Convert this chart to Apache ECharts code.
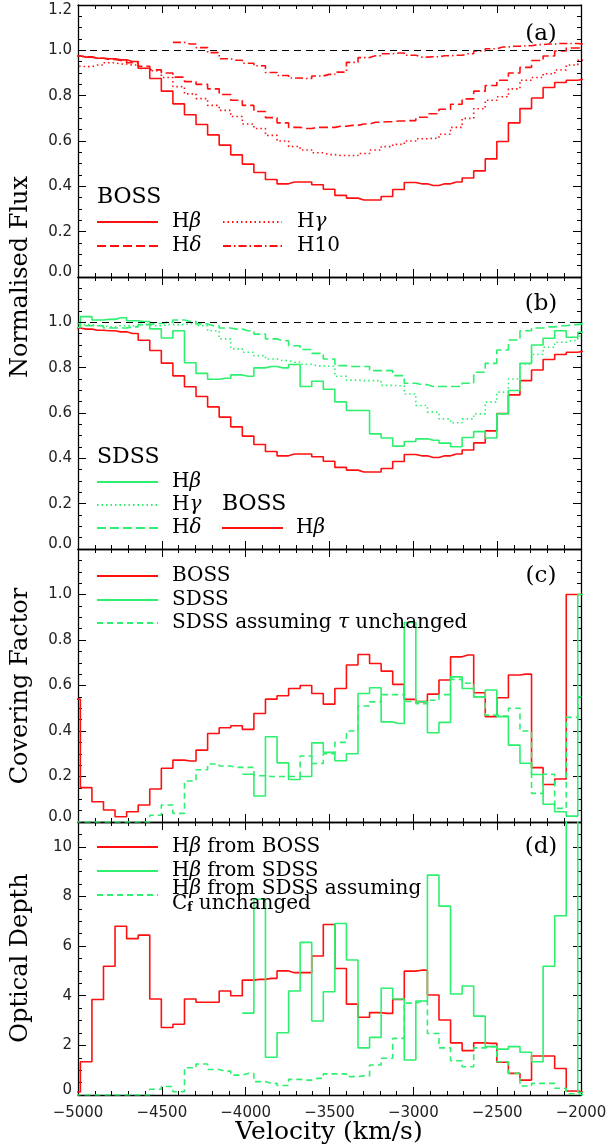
<!DOCTYPE html>
<html><head><meta charset="utf-8">
<script src="https://cdn.jsdelivr.net/npm/echarts/dist/echarts.min.js"></script>
<style>html,body{margin:0;padding:0;background:#fff}#c{width:609px;height:1148px}</style>
</head><body><div id="c"></div><script>
// bin centres (km/s), 69 km/s pixels
const VEL = [-5020.5,-4951.5,-4882.5,-4813.5,-4744.5,-4675.5,-4606.5,-4537.5,-4468.5,-4399.5,-4330.5,-4261.5,-4192.5,-4123.5,-4054.5,-3985.5,-3916.5,-3847.5,-3778.5,-3709.5,-3640.5,-3571.5,-3502.5,-3433.5,-3364.5,-3295.5,-3226.5,-3157.5,-3088.5,-3019.5,-2950.5,-2881.5,-2812.5,-2743.5,-2674.5,-2605.5,-2536.5,-2467.5,-2398.5,-2329.5,-2260.5,-2191.5,-2122.5,-2053.5,-1984.5];
const N = null;
// (a)/(b) normalised flux
const BOSS_HB = [0.975,0.97,0.965,0.963,0.958,0.951,0.921, 0.876,0.82,0.764,0.716,0.673,0.627,0.582,0.539,0.498,0.461, 0.43,0.411,0.419,0.419,0.407,0.387,0.36,0.348,0.34,0.34, 0.355,0.386,0.417,0.411,0.404,0.411,0.419,0.437,0.468,0.521, 0.598,0.68,0.743,0.79,0.836,0.858,0.868,0.873];
const BOSS_HD = [0.975,0.972,0.965,0.96,0.955,0.945,0.93, 0.914,0.9,0.882,0.862,0.85,0.83,0.805,0.78,0.757,0.73, 0.703,0.68,0.66,0.655,0.66,0.66,0.665,0.669,0.675,0.683, 0.685,0.688,0.69,0.705,0.72,0.74,0.762,0.786,0.82,0.845, 0.868,0.9,0.925,0.955,0.975,0.997,1.01,1.01];
const BOSS_HG = [0.93,0.928,0.935,0.945,0.94,0.935,0.92, 0.91,0.88,0.84,0.808,0.787,0.757,0.735,0.708,0.675,0.655, 0.625,0.6,0.576,0.56,0.548,0.54,0.536,0.536,0.545,0.56, 0.575,0.585,0.6,0.61,0.612,0.63,0.66,0.7,0.742,0.78, 0.795,0.83,0.868,0.88,0.897,0.913,0.935,0.956];
const BOSS_H10 = [N,N,N,N,N,N,N,N,N, 1.035,1.028,1.012,0.99,0.963,0.956,0.943,0.932, 0.902,0.889,0.878,0.876,0.887,0.894,0.904,0.947,0.968,0.976, 0.985,0.988,0.978,0.97,0.972,0.976,0.978,0.985,0.997,1.007, 1.015,1.018,1.02,1.025,1.028,1.03,1.03,1.028];
const SDSS_HB = [0.978,1.025,1.01,1.013,1.02,1.007,1.004, 0.971,0.931,0.963,0.822,0.775,0.749,0.753,0.768,0.762,0.799, 0.805,0.799,0.814,0.717,0.74,0.705,0.649,0.611,0.611,0.508, 0.49,0.454,0.474,0.486,0.48,0.467,0.451,0.492,0.518,0.49, 0.596,0.699,0.819,0.9,0.93,0.963,0.934,0.956];
const SDSS_HG = [0.99,0.99,0.985,0.98,0.985,0.985,0.99, 0.985,0.99,0.99,0.995,0.985,0.963,0.927,0.883,0.868,0.853, 0.838,0.831,0.824,0.815,0.808,0.806,0.762,0.745,0.743,0.743, 0.722,0.72,0.684,0.633,0.604,0.574,0.557,0.574,0.596,0.648, 0.692,0.75,0.816,0.858,0.89,0.912,0.92,0.94];
const SDSS_HD = [0.995,0.985,0.985,0.975,0.975,0.98,0.99, 0.995,1.0,1.01,1.004,0.993,0.985,0.975,0.97,0.963,0.948, 0.927,0.919,0.897,0.88,0.863,0.838,0.809,0.805,0.805,0.787, 0.787,0.765,0.731,0.725,0.717,0.717,0.717,0.731,0.78,0.819, 0.878,0.922,0.963,0.975,0.98,0.985,0.99,0.995];
// (c) covering factor
const BOSS_CF = [0.54,0.151,0.089,0.053,0.023,0.045,0.075, 0.145,0.236,0.272,0.268,0.316,0.389,0.414,0.423,0.407,0.477, 0.54,0.555,0.587,0.6,0.565,0.518,0.587,0.69,0.736,0.697, 0.663,0.605,0.539,0.529,0.562,0.624,0.726,0.734,0.568,0.463, 0.546,0.646,0.65,0.239,0.165,0.189,1.0,1.0];
const SDSS_CF = [N,N,N,N,N,N,N,N,N,N,N,N,N,N,N, 0.21,0.114, 0.375,0.26,0.187,0.2,0.348,0.306,0.269,0.3,0.565,0.59, 0.44,0.433,0.877,0.529,0.392,0.438,0.638,0.587,0.55,0.58, 0.463,0.338,0.258,0.209,0.078,0.045,0.026,1.0];
const SDSS_CF_TAU = [0,0,0,0,0,0,0, 0.03,0.075,0.038,0.18,0.23,0.255,0.246,0.24,0.24,0.203, 0.2,0.2,0.2,0.29,0.257,0.3,0.35,0.4,0.51,0.528, 0.56,0.56,0.53,0.52,0.535,0.56,0.627,0.61,0.55,0.47, 0.466,0.5,0.4,0.126,0.21,0.06,0.46,0.55];
// (d) optical depth
const BOSS_TAU = [0.12,1.34,3.85,5.19,6.8,6.3,6.44, 3.87,2.72,2.85,3.87,3.74,3.74,4.19,4.0,4.63,4.66, 4.7,5.0,4.93,4.93,5.6,6.87,5.1,3.66,3.13,3.32, 3.29,3.85,4.99,5.03,4.03,3.02,2.1,1.79,2.1,2.08, 1.32,0.87,0.6,1.57,1.57,1.07,0.16,0.13];
const SDSS_TAU = [N,N,N,N,N,N,N,N,N,N,N,N,N,N,N, 3.3,7.89, 1.52,2.51,4.19,6.15,2.98,4.16,6.91,5.44,1.9,2.32, 4.3,3.87,1.41,3.79,8.86,7.61,4.07,4.39,3.18,1.95, 1.85,1.95,1.72,1.34,5.19,7.22,13,0.1];
const SDSS_TAU_CF = [0,0,0,0,0,0,0, 0.23,0.34,0.13,1.1,1.25,1.03,0.96,0.8,0.87,0.54, 0.47,0.38,0.63,0.6,0.67,0.85,0.85,0.74,0.77,1.21, 1.48,2.28,3.7,3.78,2.48,1.9,1.38,1.14,1.9,1.95, 1.34,0.87,0.36,0.47,0.47,0.27,0.05,0];

const X_MIN = -5000, X_MAX = -2000, X_STEP = 500;
const Y_RANGES = [[0,1.2,0.2],[0,1.2,0.2],[0,1.2,0.2],[0,11,2]];
const PANEL_LABELS = ['(a)','(b)','(c)','(d)'];

const RED = '#ff1010', GREEN = '#2df06e';
const GRIDS = [{top:5,height:272},{top:277,height:272},{top:549,height:273},{top:822,height:273}];
const SERIF = '"DejaVu Serif", "Liberation Serif", serif';
const SANS = '"DejaVu Sans", sans-serif';

function mk(arr){ return VEL.map((v,i)=>[v, arr[i]]); }

const grid = GRIDS.map(g=>({left:78, right:28, top:g.top, height:g.height, containLabel:false, outerBoundsMode:'none'}));

const LBL_RICH = {
  m:{fontFamily:SANS, fontSize:15, color:'#222'},
  lo:{fontFamily:SANS, fontSize:15, color:'#222', padding:[0,0,10,0]},
  hi:{fontFamily:SANS, fontSize:15, color:'#222', padding:[10,0,0,0]}
};

const xAxis = [], yAxis = [];
GRIDS.forEach((g,gi)=>{
  ['bottom','top'].forEach(pos=>{
    xAxis.push({type:'value', gridIndex:gi, position:pos, min:X_MIN, max:X_MAX, interval:X_STEP,
      axisLine:{show:true, onZero:false, lineStyle:{color:'#000', width:1.3}},
      axisTick:{show:true, inside:true, length:8, lineStyle:{color:'#000', width:1}},
      minorTick:{show:true, splitNumber:5, length:4, lineStyle:{color:'#000', width:1}},
      splitLine:{show:false}, minorSplitLine:{show:false},
      axisLabel:{show: gi===3 && pos==='bottom', margin:11, fontFamily:SANS, fontSize:15, color:'#222',
        formatter: v => (v<0?'\u2212':'') + Math.abs(v)}
    });
  });
  const r = Y_RANGES[gi];
  ['left','right'].forEach(pos=>{
    yAxis.push({type:'value', gridIndex:gi, position:pos, min:r[0], max:r[1], interval:r[2],
      axisLine:{show:true, onZero:false, lineStyle:{color:'#000', width:1.3}},
      axisTick:{show:true, inside:true, length:8, lineStyle:{color:'#000', width:1}},
      minorTick:{show:true, splitNumber:4, length:4, lineStyle:{color:'#000', width:1}},
      splitLine:{show:false}, minorSplitLine:{show:false},
      axisLabel:{show: pos==='left', margin:6, rich:LBL_RICH,
        formatter: v => {
          let t;
          if (gi===3) { if (Math.abs(v-11)<1e-6) return ''; t = String(Math.round(v)); }
          else { if (gi>0 && v>1.1) return ''; t = v.toFixed(1); }
          if (Math.abs(v)<1e-9) return '{lo|'+t+'}';
          if (gi===0 && v>1.1) return '{hi|'+t+'}';
          return '{m|'+t+'}';
        }}
    });
  });
});

function S(gi, arr, color, dash, width, extra){
  return Object.assign({type:'line', xAxisIndex:2*gi, yAxisIndex:2*gi, data:mk(arr), step:'middle',
    symbol:'none', showSymbol:false, clip:true, silent:true, animation:false,
    lineStyle:{color:color, width:width||1.6, type:dash||'solid'}}, extra||{});
}
const ONE_LINE = {markLine:{silent:true, symbol:'none', animation:false, label:{show:false},
  lineStyle:{color:'#000', type:[7,5], width:1}, data:[{yAxis:1}]}};

const DASH_LONG=[9,4], DOT=[1.5,3], DASHDOT=[8,3,1.5,3], DASH_SHORT=[6,4];

const series = [
  S(0, BOSS_HB, RED, 'solid', 1.6, ONE_LINE),
  S(0, BOSS_HD, RED, DASH_LONG),
  S(0, BOSS_HG, RED, DOT),
  S(0, BOSS_H10, RED, DASHDOT),
  S(1, BOSS_HB, RED, 'solid', 1.6, ONE_LINE),
  S(1, SDSS_HG, GREEN, DOT),
  S(1, SDSS_HD, GREEN, DASH_LONG),
  S(1, SDSS_HB, GREEN, 'solid'),
  S(2, BOSS_CF, RED, 'solid'),
  S(2, SDSS_CF_TAU, GREEN, DASH_SHORT),
  S(2, SDSS_CF, GREEN, 'solid'),
  S(3, BOSS_TAU, RED, 'solid'),
  S(3, SDSS_TAU_CF, GREEN, DASH_SHORT),
  S(3, SDSS_TAU, GREEN, 'solid')
];

const RICH = {
  n:{fontFamily:SERIF, fontSize:20, color:'#000'},
  h:{fontFamily:SERIF, fontSize:22, color:'#000'},
  g:{fontFamily:SERIF, fontSize:20, fontStyle:'italic', color:'#000'},
  s:{fontFamily:SERIF, fontSize:12, fontWeight:'bold', color:'#000', verticalAlign:'bottom'}
};
function gl(x1,x2,y,color,dash){ return {type:'line', silent:true, z:100, shape:{x1:x1,y1:y,x2:x2,y2:y},
  style:{stroke:color, lineWidth:2.2, lineDash:dash||null}}; }
function gt(x,y,text,opts){ opts=opts||{}; return {type:'text', silent:true, z:100, x:x, y:y, rotation:opts.rot||0,
  style:{text:text, rich:RICH, fill:'#000', font:(opts.size||20)+'px '+SERIF,
    textAlign:opts.align||'left', align:opts.align||'left', textVerticalAlign:'middle', verticalAlign:'middle'}}; }

const graphic = [
  // y titles
  gt(21, 277, 'Normalised Flux', {size:24, align:'center', rot:Math.PI/2}),
  gt(21, 686, 'Covering Factor', {size:24, align:'center', rot:Math.PI/2}),
  gt(21, 958, 'Optical Depth', {size:24, align:'center', rot:Math.PI/2}),
  gt(329, 1132, 'Velocity (km/s)', {size:25, align:'center'}),
  // panel labels
  gt(541, 34, PANEL_LABELS[0], {size:23, align:'center'}),
  gt(541, 304, PANEL_LABELS[1], {size:23, align:'center'}),
  gt(541, 576, PANEL_LABELS[2], {size:23, align:'center'}),
  gt(541, 847, PANEL_LABELS[3], {size:23, align:'center'}),
  // legend (a)
  gt(97, 197, '{h|BOSS}'),
  gl(97,158,222,RED), gt(172,222,'{n|H}{g|β}'),
  gl(223,282,222,RED,DOT), gt(297,222,'{n|H}{g|γ}'),
  gl(97,158,246,RED,DASH_LONG), gt(172,246,'{n|H}{g|δ}'),
  gl(223,282,246,RED,DASHDOT), gt(297,246,'{n|H10}'),
  // legend (b)
  gt(97, 457, '{h|SDSS}'),
  gl(97,158,482,GREEN), gt(172,482,'{n|H}{g|β}'),
  gl(97,158,505,GREEN,DOT), gt(172,505,'{n|H}{g|γ}'),
  gl(97,158,528,GREEN,DASH_LONG), gt(172,528,'{n|H}{g|δ}'),
  gt(222, 504, '{h|BOSS}'),
  gl(222,283,528,RED), gt(296,528,'{n|H}{g|β}'),
  // legend (c)
  gl(97,158,576,RED), gt(172,576,'{n|BOSS}'),
  gl(97,158,600,GREEN), gt(172,600,'{n|SDSS}'),
  gl(97,158,623,GREEN,DASH_SHORT), gt(172,623,'{n|SDSS assuming }{g|τ}{n| unchanged}'),
  // legend (d)
  gl(97,158,847,RED), gt(172,847,'{n|H}{g|β}{n| from BOSS}'),
  gl(97,158,871,GREEN), gt(172,871,'{n|H}{g|β}{n| from SDSS}'),
  gl(97,158,895,GREEN,DASH_SHORT), gt(172,889,'{n|H}{g|β}{n| from SDSS assuming}'),
  gt(172,904,'{n|C}{s|f}{n| unchanged}')
];

const chart = echarts.init(document.getElementById('c'), null, {renderer:'canvas'});
chart.setOption({animation:false, backgroundColor:'#fff', grid:grid, xAxis:xAxis, yAxis:yAxis, series:series, graphic:{elements:graphic}});
</script></body></html>
